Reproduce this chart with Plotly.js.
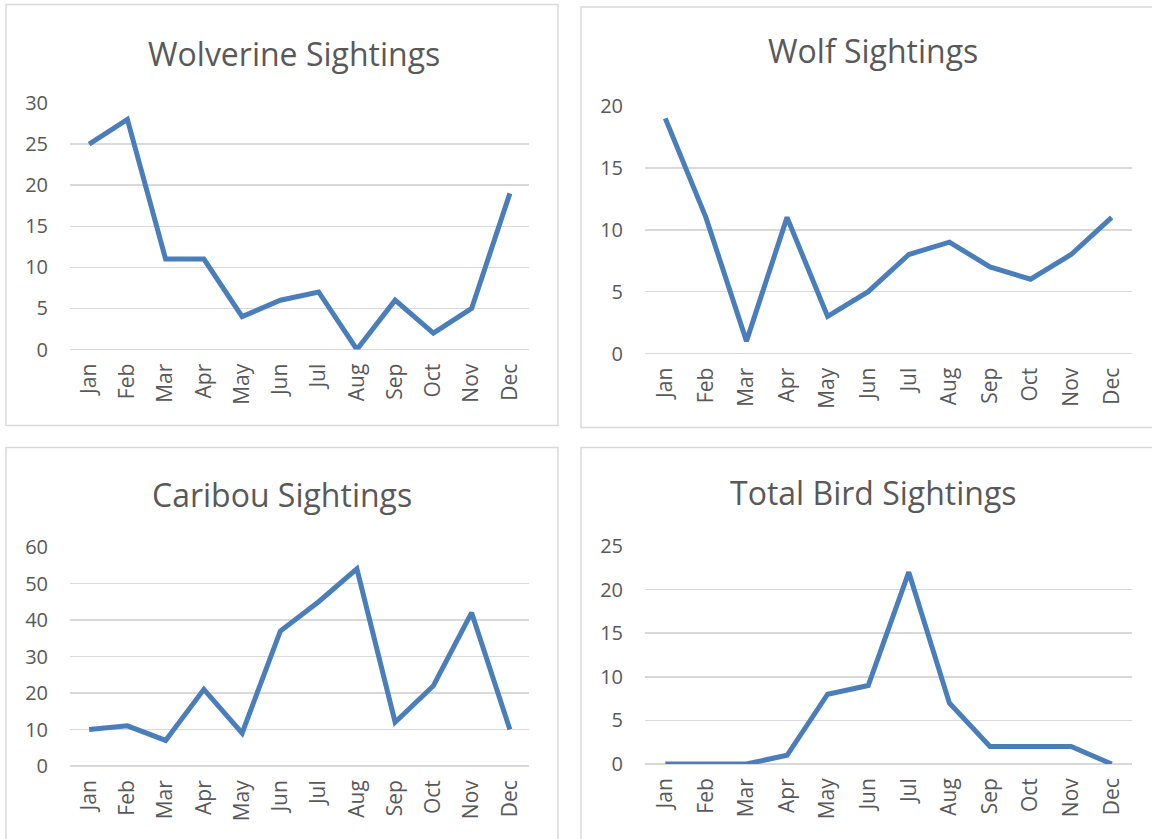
<!DOCTYPE html>
<html>
<head>
<meta charset="utf-8">
<script src="https://cdn.plot.ly/plotly-3.0.1.min.js"></script>
<style>
  html, body { margin: 0; padding: 0; background: #fff; }
  #sightings { width: 1152px; height: 839px; }
</style>
</head>
<body>
<div id="sightings"></div>
<script>
// monthly sightings, one array per animal
const months = ["Jan", "Feb", "Mar", "Apr", "May", "Jun", "Jul", "Aug", "Sep", "Oct", "Nov", "Dec"];
const wolverine = [25, 28, 11, 11, 4, 6, 7, 0, 6, 2, 5, 19];
const wolf = [19, 11, 1, 11, 3, 5, 8, 9, 7, 6, 8, 11];
const caribou = [10, 11, 7, 21, 9, 37, 45, 54, 12, 22, 42, 10];
const birds = [0, 0, 0, 1, 8, 9, 22, 7, 2, 2, 2, 0];

const titles = ["Wolverine Sightings", "Wolf Sightings", "Caribou Sightings", "Total Bird Sightings"];
const yMax = [30, 20, 60, 25];
const yStep = [5, 5, 10, 5];

const W = 1152, H = 839;
const px = v => v / W;
const py = v => 1 - v / H;

const lineColor = "#4a7ebb";
const gridColor = "#d9d9d9";
const textColor = "#595959";
const font = "'Open Sans', 'Noto Sans', sans-serif";

// pixel boxes for each panel: plot area + frame + title centre
const panels = [
  {plot: [70, 529, 103, 349.5], frame: [6, 558, 4.5, 425.5], title: [294, 54]},
  {plot: [645, 1132, 106, 353.5], frame: [581, 1170, 7, 427.5], title: [873, 51]},
  {plot: [70, 529, 547, 766], frame: [6, 558, 447.5, 850], title: [282, 494]},
  {plot: [645, 1132, 546, 764], frame: [581, 1170, 447.5, 850], title: [873, 492]}
];

const seriesList = [wolverine, wolf, caribou, birds];

const data = seriesList.map((ys, i) => ({
  x: months,
  y: ys,
  type: "scatter",
  mode: "lines",
  xaxis: i === 0 ? "x" : "x" + (i + 1),
  yaxis: i === 0 ? "y" : "y" + (i + 1),
  line: {color: lineColor, width: 5},
  hoverinfo: "x+y"
}));

const layout = {
  width: W,
  height: H,
  margin: {l: 0, r: 0, t: 0, b: 0},
  paper_bgcolor: "#fff",
  plot_bgcolor: "rgba(0,0,0,0)",
  showlegend: false,
  font: {family: font, color: textColor},
  shapes: [],
  annotations: []
};

panels.forEach((p, i) => {
  const sfx = i === 0 ? "" : String(i + 1);
  layout["xaxis" + sfx] = {
    domain: [px(p.plot[0]), px(p.plot[1])],
    anchor: "y" + sfx,
    type: "category",
    range: [-0.5, 11.5],
    showgrid: false,
    showline: false,
    zeroline: false,
    ticks: "",
    tickangle: -90,
    ticklabelstandoff: 9,
    tickfont: {family: font, size: 21, color: textColor},
    fixedrange: true
  };
  layout["yaxis" + sfx] = {
    domain: [py(p.plot[3]), py(p.plot[2])],
    anchor: "x" + sfx,
    range: [0, yMax[i]],
    dtick: yStep[i],
    tick0: 0,
    showgrid: true,
    gridcolor: gridColor,
    gridwidth: 1.5,
    zeroline: true,
    zerolinecolor: gridColor,
    zerolinewidth: 1.5,
    showline: false,
    ticks: "",
    ticklabelstandoff: 21,
    tickfont: {family: font, size: 20, color: textColor},
    fixedrange: true
  };
  layout.shapes.push({
    type: "rect",
    xref: "paper", yref: "paper",
    x0: px(p.frame[0]), x1: px(p.frame[1]),
    y0: py(p.frame[3]), y1: py(p.frame[2]),
    line: {color: gridColor, width: 1.5},
    fillcolor: "rgba(0,0,0,0)"
  });
  layout.annotations.push({
    text: titles[i],
    xref: "paper", yref: "paper",
    x: px(p.title[0]), y: py(p.title[1]),
    xanchor: "center", yanchor: "middle",
    showarrow: false,
    font: {family: font, size: 32, color: textColor}
  });
});

Plotly.newPlot("sightings", data, layout, {displayModeBar: false, staticPlot: true});
</script>
</body>
</html>
